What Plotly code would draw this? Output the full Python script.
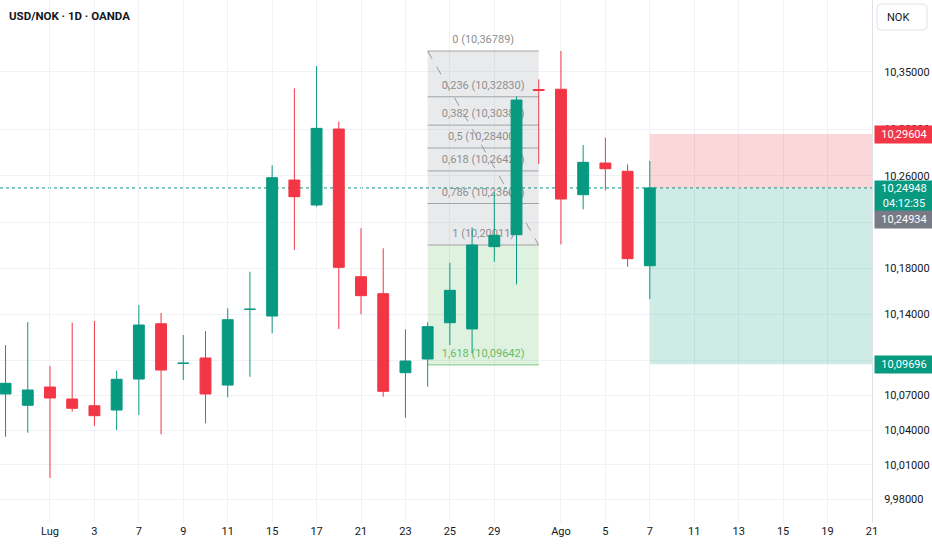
import pandas as pd
import plotly.graph_objects as go

# dati giornalieri USD/NOK
dates = ["2025-06-27", "2025-06-30", "2025-07-01", "2025-07-02", "2025-07-03", "2025-07-04",
         "2025-07-07", "2025-07-08", "2025-07-09", "2025-07-10", "2025-07-11", "2025-07-14",
         "2025-07-15", "2025-07-16", "2025-07-17", "2025-07-18", "2025-07-21", "2025-07-22",
         "2025-07-23", "2025-07-24", "2025-07-25", "2025-07-28", "2025-07-29", "2025-07-30",
         "2025-07-31", "2025-08-01", "2025-08-04", "2025-08-05", "2025-08-06", "2025-08-07"]
opens = [10.0713, 10.0615, 10.0773, 10.0669, 10.0611, 10.0574, 10.0842, 10.1320, 10.0977, 10.1024,
         10.0790, 10.1444, 10.1387, 10.2563, 10.2347, 10.3004, 10.1727, 10.1580, 10.0897, 10.1015,
         10.1329, 10.1275, 10.1987, 10.2090, 10.3346, 10.3348, 10.2436, 10.2710, 10.2639, 10.1822]
highs = [10.1136, 10.1335, 10.0955, 10.1329, 10.1344, 10.0914, 10.1482, 10.1413, 10.1223, 10.1257,
         10.1454, 10.1770, 10.2690, 10.3356, 10.3549, 10.3068, 10.2146, 10.1973, 10.1272, 10.1333,
         10.1848, 10.2154, 10.2457, 10.3284, 10.3434, 10.36789, 10.2866, 10.2929, 10.2699, 10.2728]
lows = [10.0343, 10.0378, 9.9986, 10.0560, 10.0438, 10.0401, 10.0531, 10.0364, 10.0834, 10.0459,
        10.0684, 10.0862, 10.1238, 10.1958, 10.2332, 10.1275, 10.1402, 10.0689, 10.0508, 10.0776,
        10.1136, 10.1065, 10.1857, 10.1661, 10.2702, 10.2007, 10.2310, 10.2474, 10.1814, 10.1534]
closes = [10.0805, 10.0747, 10.0678, 10.0589, 10.0525, 10.0840, 10.1309, 10.0920, 10.0979, 10.0713,
          10.1355, 10.1446, 10.2583, 10.2419, 10.3010, 10.1808, 10.1563, 10.0736, 10.0998, 10.1295,
          10.1609, 10.2001, 10.2085, 10.3255, 10.3338, 10.2399, 10.2716, 10.2661, 10.1883, 10.24948]

tick_dates = ["2025-07-01", "2025-07-03", "2025-07-07", "2025-07-09", "2025-07-11", "2025-07-15",
              "2025-07-17", "2025-07-21", "2025-07-23", "2025-07-25", "2025-07-29", "2025-08-01",
              "2025-08-05", "2025-08-07", "2025-08-11", "2025-08-13", "2025-08-15", "2025-08-19",
              "2025-08-21"]
tick_labels = ["Lug", "3", "7", "9", "11", "15", "17", "21", "23", "25", "29", "Ago",
               "5", "7", "11", "13", "15", "19", "21"]

y_ticks = [10.35, 10.30, 10.26, 10.22, 10.18, 10.14, 10.10, 10.07, 10.04, 10.01, 9.98]

# ritracciamento di Fibonacci
fib_ratios = ["0", "0,236", "0,382", "0,5", "0,618", "0,786", "1", "1,618"]
fib_prices = [10.36789, 10.32830, 10.30380, 10.28400, 10.26420, 10.23601, 10.20011, 10.09642]
fib_start, fib_end = "2025-07-24", "2025-07-31"

# posizione long
entry_price = 10.24934
stop_price = 10.29604
target_price = 10.09696
position_start = "2025-08-07"
countdown = "04:12:35"

GREEN = "#089981"
RED = "#f23645"
TXT = "#131722"
GRID = "#f1f2f5"
FONT = "Roboto"

W, H = 932, 550
ML, MR, MT, MB = 0, 60, 0, 27
PW, PH = W - ML - MR, H - MT - MB

# indice dei giorni lavorativi (asse x senza weekend)
bdays = pd.bdate_range("2025-06-27", "2025-08-21")
pos = {d.strftime("%Y-%m-%d"): i for i, d in enumerate(bdays)}
xs = [pos[d] for d in dates]
x_range = [-0.25, 39.001]
y_range = [9.9597, 10.4120]


def fmt(v):
    return f"{v:.5f}".replace(".", ",")


def px_to_paper(px, py):
    return (px - ML) / PW, 1 - (py - MT) / PH


fig = go.Figure()
fig.add_trace(go.Candlestick(
    x=xs, open=opens, high=highs, low=lows, close=closes,
    increasing=dict(line=dict(color=GREEN, width=1), fillcolor=GREEN),
    decreasing=dict(line=dict(color=RED, width=1), fillcolor=RED),
    whiskerwidth=0, showlegend=False, name="USD/NOK",
))

shapes = []
fx0, fx1 = pos[fib_start], pos[fib_end]
# fondo grigio (0 -> 1) e verde (1 -> 1.618)
shapes.append(dict(type="rect", xref="x", yref="y", x0=fx0, x1=fx1, y0=fib_prices[6], y1=fib_prices[0],
                   fillcolor="rgba(120,123,134,0.16)", line=dict(width=0), layer="between"))
shapes.append(dict(type="rect", xref="x", yref="y", x0=fx0, x1=fx1, y0=fib_prices[7], y1=fib_prices[6],
                   fillcolor="rgba(76,175,80,0.18)", line=dict(width=0), layer="between"))
for r, p in zip(fib_ratios, fib_prices):
    is_ext = r == "1,618"
    col = "#81c784" if is_ext else "#a3a3a3"
    tcol = "#66bb6a" if is_ext else "#8f8f8f"
    shapes.append(dict(type="line", xref="x", yref="y", x0=fx0, x1=fx1, y0=p, y1=p,
                       line=dict(color=col, width=1), layer="between",
                       label=dict(text=f"{r} ({fmt(p)})", textposition="middle", yanchor="bottom",
                                  padding=6, font=dict(family=FONT, size=11, color=tcol))))
shapes.append(dict(type="line", xref="x", yref="y", x0=fx0, x1=fx1, y0=fib_prices[0], y1=fib_prices[6],
                   line=dict(color="#9a9a9a", width=1, dash="dash"), layer="between"))

# aree stop / target
px0 = pos[position_start]
shapes.append(dict(type="rect", xref="x", yref="y", x0=px0, x1=x_range[1], y0=entry_price, y1=stop_price,
                   fillcolor="rgba(242,54,69,0.2)", line=dict(width=0), layer="between"))
shapes.append(dict(type="rect", xref="x", yref="y", x0=px0, x1=x_range[1], y0=target_price, y1=entry_price,
                   fillcolor="rgba(8,153,129,0.2)", line=dict(width=0), layer="between"))

# linea del prezzo corrente
shapes.append(dict(type="line", xref="paper", yref="y", x0=0, x1=1, y0=closes[-1], y1=closes[-1],
                   line=dict(color=GREEN, width=1, dash="dot"), layer="between"))

# riquadro "NOK" arrotondato
bx0, by0, bx1, by1, rr = 877, 4, 927, 30, 4
pts = [(bx0 + rr, by0), (bx1 - rr, by0), (bx1, by0), (bx1, by0 + rr), (bx1, by1 - rr), (bx1, by1),
       (bx1 - rr, by1), (bx0 + rr, by1), (bx0, by1), (bx0, by1 - rr), (bx0, by0 + rr), (bx0, by0),
       (bx0 + rr, by0)]
pp = [px_to_paper(a, b) for a, b in pts]
path = (f"M{pp[0][0]},{pp[0][1]} L{pp[1][0]},{pp[1][1]} Q{pp[2][0]},{pp[2][1]} {pp[3][0]},{pp[3][1]} "
        f"L{pp[4][0]},{pp[4][1]} Q{pp[5][0]},{pp[5][1]} {pp[6][0]},{pp[6][1]} "
        f"L{pp[7][0]},{pp[7][1]} Q{pp[8][0]},{pp[8][1]} {pp[9][0]},{pp[9][1]} "
        f"L{pp[10][0]},{pp[10][1]} Q{pp[11][0]},{pp[11][1]} {pp[12][0]},{pp[12][1]} Z")
shapes.append(dict(type="path", xref="paper", yref="paper", path=path, fillcolor="white",
                   line=dict(color="#e0e3eb", width=1), layer="above"))

annotations = []
tx, ty = px_to_paper(7, 16)
annotations.append(dict(text="<b>USD/NOK · 1D · OANDA</b>", xref="paper", yref="paper", x=tx, y=ty,
                        xanchor="left", yanchor="middle", showarrow=False,
                        font=dict(family=FONT, size=11.5, color=TXT)))
nx, ny = px_to_paper(885, 17)
annotations.append(dict(text="NOK", xref="paper", yref="paper", x=nx, y=ny, xanchor="left",
                        yanchor="middle", showarrow=False, font=dict(family=FONT, size=11, color=TXT)))


def price_box(v, text, bg, yanchor="middle", yshift=0, h=None):
    annotations.append(dict(text=text, xref="paper", yref="y", x=1 + 2 / PW, y=v, xanchor="left",
                            yanchor=yanchor, yshift=yshift, showarrow=False, bgcolor=bg,
                            width=54, height=h, borderpad=2, align="center",
                            font=dict(family=FONT, size=11, color="white")))


price_box(stop_price, fmt(stop_price), RED)
price_box(closes[-1], f"{fmt(closes[-1])}<br>{countdown}", GREEN, yanchor="top", yshift=8, h=26)
price_box(entry_price, fmt(entry_price), "#787b86", yanchor="top", yshift=-22)
price_box(target_price, fmt(target_price), GREEN)

fig.update_layout(
    width=W, height=H,
    margin=dict(l=ML, r=MR, t=MT, b=MB),
    paper_bgcolor="white", plot_bgcolor="white",
    showlegend=False,
    shapes=shapes, annotations=annotations,
    font=dict(family=FONT, size=11, color=TXT),
    xaxis=dict(range=x_range, tickvals=[pos[d] for d in tick_dates], ticktext=tick_labels,
               showgrid=True, gridcolor=GRID, gridwidth=1, zeroline=False, showline=False,
               ticks="", rangeslider=dict(visible=False), automargin=False,
               tickfont=dict(family=FONT, size=11, color=TXT)),
    yaxis=dict(range=y_range, side="right", tickvals=y_ticks, ticktext=[fmt(v) for v in y_ticks],
               showgrid=True, gridcolor=GRID, gridwidth=1, zeroline=False, showline=True,
               linecolor="#e0e3eb", linewidth=1, ticks="", ticklabelstandoff=9, automargin=False,
               tickfont=dict(family=FONT, size=11, color=TXT)),
    hovermode=False,
)

# niente margine del body, così la figura occupa esattamente la finestra
fig.write_html("out.html", config={"displayModeBar": False},
               post_script="document.body.style.margin='0';")
